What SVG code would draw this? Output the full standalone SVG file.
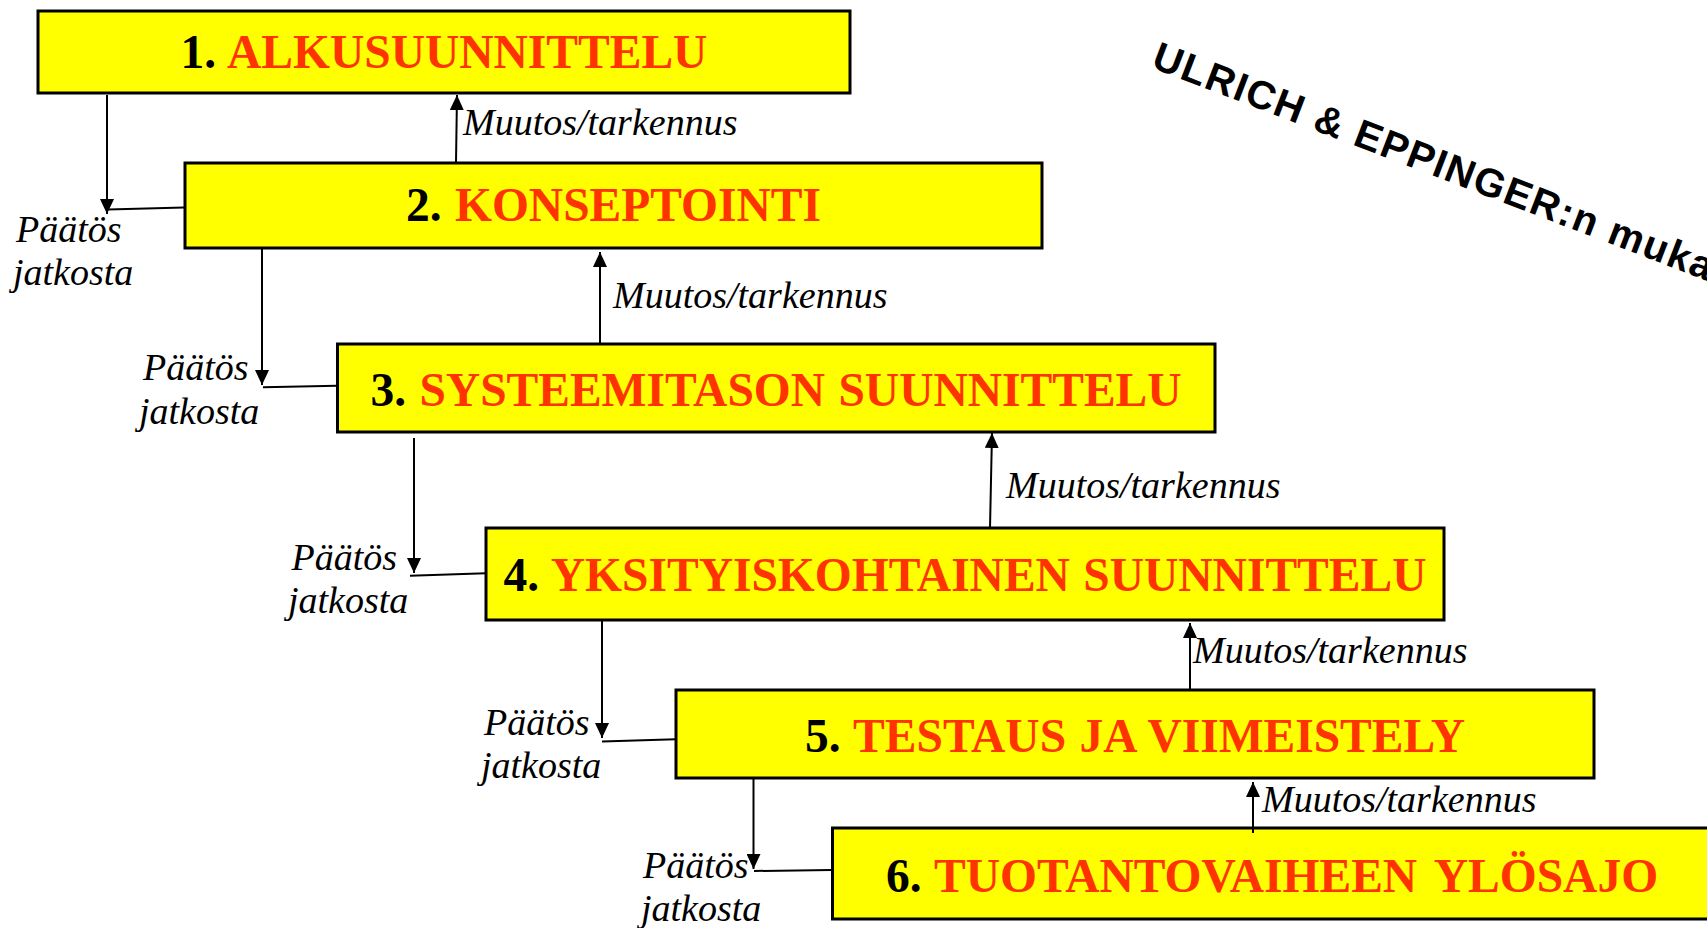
<svg xmlns="http://www.w3.org/2000/svg" width="1707" height="928" viewBox="0 0 1707 928">
<style>
.box{fill:#FFFF00;stroke:#000;stroke-width:3}
.title{font-family:"Liberation Serif","Times New Roman",serif;font-weight:bold;font-size:47.5px;text-anchor:middle;fill:#FF3300;word-spacing:1.5px}
.num{fill:#000}
.lbl{font-family:"Liberation Serif","Times New Roman",serif;font-style:italic;font-size:38px;fill:#000}
.ln{stroke:#000;stroke-width:2;fill:none}
.arr{stroke:#000;stroke-width:2;fill:none;marker-end:url(#ah)}
.side{font-family:"Liberation Sans",Arial,sans-serif;font-weight:bold;font-size:40px;fill:#000}
</style>
<defs>
<marker id="ah" markerWidth="15" markerHeight="14" refX="15" refY="7" orient="auto" markerUnits="userSpaceOnUse">
<path d="M0,0 L15,7 L0,14 z" fill="#000"/>
</marker>
</defs>
<rect width="1707" height="928" fill="#fff"/>

<g id="node1">
<rect class="box" x="38" y="11" width="812" height="82"/>
<text class="title" x="444" y="68"><tspan class="num">1. </tspan>ALKUSUUNNITTELU</text>
</g>
<g id="node2">
<rect class="box" x="185" y="163" width="857" height="85"/>
<text class="title" x="613.5" y="221"><tspan class="num">2. </tspan>KONSEPTOINTI</text>
</g>
<g id="node3">
<rect class="box" x="337.5" y="344" width="877.5" height="88"/>
<text class="title" x="776" y="406"><tspan class="num">3. </tspan>SYSTEEMITASON SUUNNITTELU</text>
</g>
<g id="node4">
<rect class="box" x="486" y="528" width="958" height="92"/>
<text class="title" x="965" y="591"><tspan class="num">4. </tspan>YKSITYISKOHTAINEN SUUNNITTELU</text>
</g>
<g id="node5">
<rect class="box" x="676" y="690" width="918" height="88"/>
<text class="title" x="1135" y="752"><tspan class="num">5. </tspan>TESTAUS JA VIIMEISTELY</text>
</g>
<g id="node6">
<rect class="box" x="832.5" y="828" width="880" height="91"/>
<text class="title" x="1272" y="892"><tspan class="num">6. </tspan>TUOTANTOVAIHEEN <tspan dx="5">YLÖSAJO</tspan></text>
</g>

<g id="connectors">
<line class="arr" x1="456" y1="162" x2="457" y2="95"/>
<line class="arr" x1="600" y1="344" x2="600" y2="252"/>
<line class="arr" x1="990" y1="528" x2="992" y2="433"/>
<line class="arr" x1="1190" y1="690" x2="1190" y2="623"/>
<line class="arr" x1="1253" y1="833" x2="1253" y2="782"/>

<line class="arr" x1="107" y1="95" x2="107" y2="214"/>
<line class="ln" x1="108" y1="209.5" x2="184" y2="207.5"/>
<line class="arr" x1="262" y1="248" x2="262" y2="385"/>
<line class="ln" x1="263" y1="387.3" x2="337" y2="385.7"/>
<line class="arr" x1="414" y1="438" x2="414" y2="573"/>
<line class="ln" x1="410" y1="575.7" x2="486" y2="573.3"/>
<line class="arr" x1="602" y1="620" x2="602" y2="738"/>
<line class="ln" x1="602" y1="741.5" x2="676" y2="739.3"/>
<line class="arr" x1="753.5" y1="778" x2="753.5" y2="869"/>
<line class="ln" x1="754" y1="871" x2="831" y2="870"/>
</g>

<g id="labels">
<text class="lbl" x="463" y="135">Muutos/tarkennus</text>
<text class="lbl" x="613" y="308">Muutos/tarkennus</text>
<text class="lbl" x="1006" y="498">Muutos/tarkennus</text>
<text class="lbl" x="1193" y="663">Muutos/tarkennus</text>
<text class="lbl" x="1262" y="812">Muutos/tarkennus</text>

<text class="lbl" x="16" y="242">Päätös</text>
<text class="lbl" x="13" y="285">jatkosta</text>
<text class="lbl" x="143" y="380">Päätös</text>
<text class="lbl" x="139" y="424">jatkosta</text>
<text class="lbl" x="291.5" y="570">Päätös</text>
<text class="lbl" x="288" y="613">jatkosta</text>
<text class="lbl" x="484" y="735">Päätös</text>
<text class="lbl" x="481" y="778">jatkosta</text>
<text class="lbl" x="643" y="878">Päätös</text>
<text class="lbl" x="641" y="921">jatkosta</text>
</g>

<text class="side" transform="translate(1150,67) rotate(21)" letter-spacing="1.5">ULRICH &amp; EPPINGER:n mukaan</text>
</svg>
